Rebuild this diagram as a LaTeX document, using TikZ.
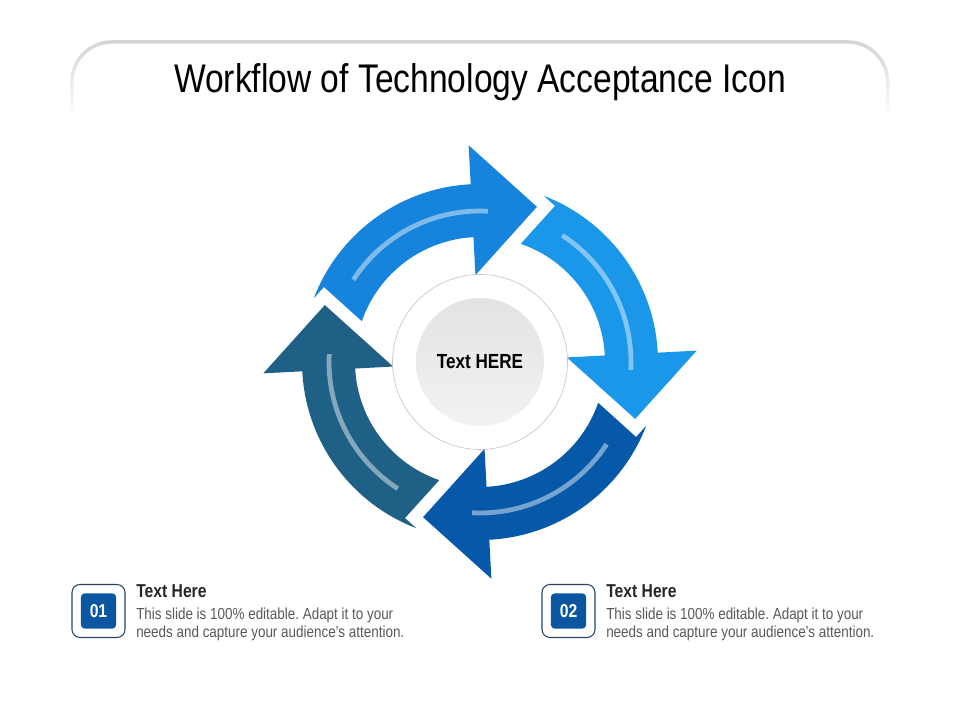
\documentclass[tikz,border=0pt]{standalone}
\usepackage{fontspec}
\setmainfont{Liberation Sans}[FakeStretch=0.84]
\usetikzlibrary{fadings}
\definecolor{arA}{RGB}{22,131,220}
\definecolor{arB}{RGB}{26,151,233}
\definecolor{arC}{RGB}{6,88,168}
\definecolor{arD}{RGB}{31,96,134}
\definecolor{numfill}{RGB}{10,86,161}
\definecolor{boxline}{RGB}{40,68,98}
\definecolor{bodygray}{RGB}{89,89,89}
\definecolor{framegray}{RGB}{212,212,212}
\tikzfading[name=fadedown, top color=transparent!0, bottom color=transparent!100]
\tikzset{
  stripe/.style={draw=white, draw opacity=0.45, line width=3.6pt},
  txt/.style={inner sep=0pt, anchor=base west},
  headtxt/.style={txt, font=\fontsize{14pt}{16pt}\selectfont\bfseries, text=black!85},
  bodytxt/.style={txt, font=\fontsize{12pt}{14pt}\selectfont, text=bodygray},
  outerbox/.style={draw=boxline, line width=0.8pt, rounded corners=6pt, minimum size=39.75pt, inner sep=0pt},
  numbox/.style={fill=numfill, rounded corners=3pt, minimum size=26.5pt, inner sep=0pt, text=white, font=\fontsize{14pt}{16pt}\selectfont\bfseries},
}
\newcommand\cyclearrow[2]{%
  \begin{scope}[shift={(480,358)}, rotate=#1]
    \fill[#2] (159:178) arc[start angle=159, end angle=93, radius=178]
      -- (93:217) -- (69.85:165.3) -- (93:87) -- (93:125)
      arc[start angle=93, end angle=160.96, radius=125]
      -- (154.33:173.2) -- cycle;
    \draw[stripe] (147:151) arc[start angle=147, end angle=87, radius=151];
  \end{scope}}
\begin{document}
\frenchspacing
\begin{tikzpicture}[x=0.75pt, y=0.75pt]
  \useasboundingbox (0,0) rectangle (960,720);
  \fill[white] (0,0) rectangle (960,720);
  % top frame
  \draw[framegray, line width=2.6pt, path fading=fadedown]
    (72,605) -- (72,638) arc[start angle=180, end angle=90, radius=40]
    -- (848,678) arc[start angle=90, end angle=0, radius=40] -- (888,605);
  % title
  \node[inner sep=0pt, anchor=base, font=\fontsize{30pt}{34pt}\selectfont] (title) at (480,627) {Workflow of Technology Acceptance Icon};
  % arrows
  \cyclearrow{0}{arA}
  \cyclearrow{-90}{arB}
  \cyclearrow{-180}{arC}
  \cyclearrow{-270}{arD}
  % centre
  \draw[black!22, line width=0.5pt] (480,358) circle[radius=87.5];
  \node[circle, minimum size=96pt, inner sep=0pt, top color=black!11, bottom color=black!5,
        font=\fontsize{15.3pt}{18pt}\selectfont\bfseries, text=black] (hub) at (480,358) {Text HERE};
  % item 01
  \node[outerbox] (box1) at (98.5,109) {};
  \node[numbox] (num1) at (box1.center) {01};
  \node[headtxt] (h1) at (136,122) {Text Here};
  \node[bodytxt] (b1a) at (136,100) {This slide is 100\% editable. Adapt it to your};
  \node[bodytxt] (b1b) at (136,82) {needs and capture your audience's attention.};
  % item 02
  \node[outerbox] (box2) at (568.5,109) {};
  \node[numbox] (num2) at (box2.center) {02};
  \node[headtxt] (h2) at (606,122) {Text Here};
  \node[bodytxt] (b2a) at (606,100) {This slide is 100\% editable. Adapt it to your};
  \node[bodytxt] (b2b) at (606,82) {needs and capture your audience's attention.};
\end{tikzpicture}
\end{document}
